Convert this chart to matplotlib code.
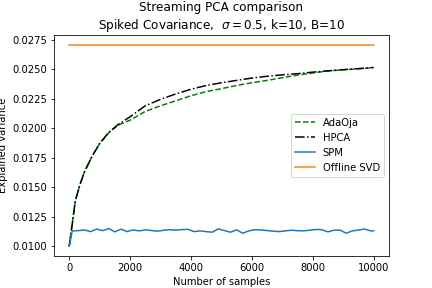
import numpy as np
from matplotlib import pyplot as plt

# sample counts for the smooth curves
n_samples = [0, 100, 200, 350, 500, 750, 1000, 1300, 1600, 2000, 2500, 3000, 3500,
             4000, 4500, 5000, 5500, 6000, 6500, 7000, 7500, 8000, 8500, 9000, 9500, 10000]
hpca = [0.0100, 0.01190, 0.01385, 0.01520, 0.01630, 0.01762, 0.01870, 0.01965, 0.02030,
        0.02097, 0.02190, 0.02245, 0.02290, 0.02330, 0.02362, 0.02385, 0.02405, 0.02425,
        0.02440, 0.02452, 0.02462, 0.02475, 0.02486, 0.02496, 0.02505, 0.02515]
adaoja = [0.0100, 0.01190, 0.01385, 0.01520, 0.01630, 0.01762, 0.01870, 0.01962, 0.02025,
          0.02068, 0.02142, 0.02190, 0.02232, 0.02275, 0.02310, 0.02335, 0.02362, 0.02385,
          0.02405, 0.02428, 0.02450, 0.02468, 0.02485, 0.02495, 0.02503, 0.02512]

# SPM is noisy, sampled more densely
spm_samples = [0, 100] + list(range(300, 10000, 200)) + [10000]
spm = [0.0100, 0.01130, 0.01132, 0.01138, 0.01124, 0.01145, 0.01132, 0.01150, 0.01122,
       0.01145, 0.01124, 0.01139, 0.01130, 0.01139, 0.01133, 0.01128, 0.01135, 0.01140,
       0.01136, 0.01141, 0.01143, 0.01124, 0.01130, 0.01124, 0.01119, 0.01147, 0.01133,
       0.01119, 0.01139, 0.01110, 0.01130, 0.01140, 0.01138, 0.01133, 0.01128, 0.01124,
       0.01130, 0.01136, 0.01132, 0.01130, 0.01136, 0.01142, 0.01140, 0.01122, 0.01136,
       0.01137, 0.01110, 0.01130, 0.01137, 0.01146, 0.01130, 0.01130]

svd_samples = [0, 10000]
svd = [0.02708, 0.02708]

fig = plt.figure(figsize=(6, 4), dpi=72)
plt.plot(n_samples, adaoja, 'g--', label='AdaOja')
plt.plot(n_samples, hpca, 'k-.', label='HPCA')
plt.plot(spm_samples, spm, label='SPM')
plt.plot(svd_samples, svd, label='Offline SVD')
plt.legend(loc='center right')
plt.title("Streaming PCA comparison\nSpiked Covariance,  $\\sigma = 0.5$, k=10, B=10")
plt.xlabel("Number of samples")
plt.ylabel("Explained variance")
plt.savefig('out.png')
